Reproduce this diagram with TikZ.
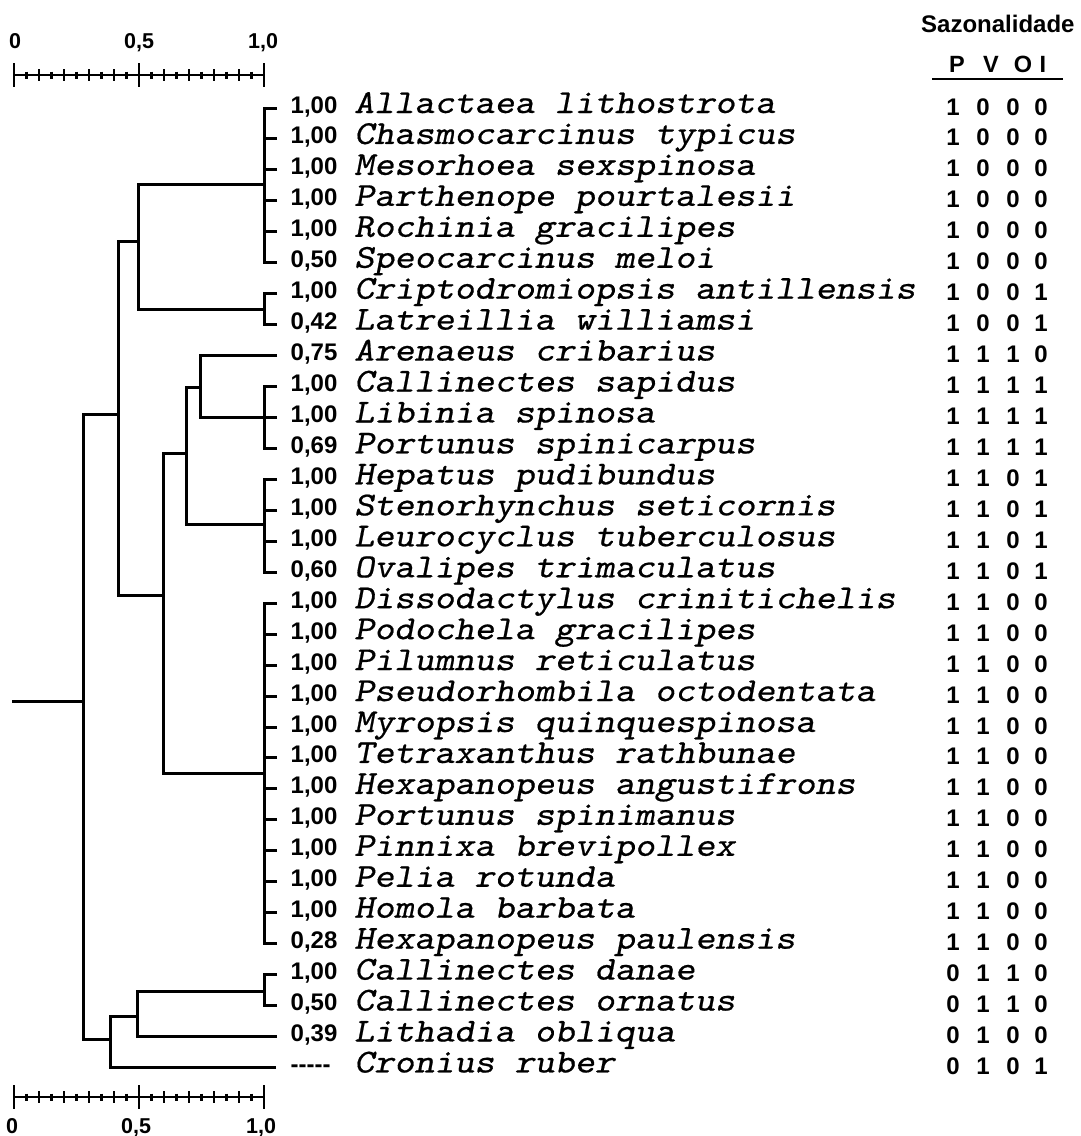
\documentclass[tikz,border=0pt]{standalone}
\usepackage{fontspec}
\setmainfont{Liberation Sans}
\newfontfamily\monofam{lmmonoslant10-regular.otf}[FakeStretch=1.14,FakeBold=0.6]
\begin{document}
\begin{tikzpicture}[x=1pt,y=-1pt,line join=miter,
  link/.style={line width=3pt},
  val/.style={anchor=base west,inner sep=0pt,font=\fontsize{24}{24}\selectfont\bfseries},
  spc/.style={anchor=base west,inner sep=0pt,font=\monofam\fontsize{33.5}{33.5}\selectfont},
  sea/.style={anchor=base,inner sep=0pt,font=\fontsize{24}{24}\selectfont\bfseries},
  scl/.style={anchor=base west,inner sep=0pt,font=\fontsize{21.5}{21.5}\selectfont\bfseries},
  hdr/.style={anchor=base west,inner sep=0pt,font=\fontsize{24}{24}\selectfont\bfseries}]
\useasboundingbox (0,0) rectangle (1081,1136);
\fill[white] (0,0) rectangle (1081,1136);

% header
\node[hdr] (title) at (921,32) {Sazonalidade};
\node[sea,font=\fontsize{23.5}{23.5}\selectfont\bfseries] (hP) at (957,72) {P};
\node[sea,font=\fontsize{23.5}{23.5}\selectfont\bfseries] (hV) at (991,72) {V};
\node[sea,font=\fontsize{23.5}{23.5}\selectfont\bfseries] (hO) at (1023,72) {O};
\node[sea,font=\fontsize{23.5}{23.5}\selectfont\bfseries] (hI) at (1043,72) {I};
\draw[line width=2.5pt] (932,79) -- (1063,79);

% rows
\foreach \i/\v/\s/\a/\b/\c/\d in {
 1/{1,00}/{Allactaea lithostrota}/1/0/0/0,
 2/{1,00}/{Chasmocarcinus typicus}/1/0/0/0,
 3/{1,00}/{Mesorhoea sexspinosa}/1/0/0/0,
 4/{1,00}/{Parthenope pourtalesii}/1/0/0/0,
 5/{1,00}/{Rochinia gracilipes}/1/0/0/0,
 6/{0,50}/{Speocarcinus meloi}/1/0/0/0,
 7/{1,00}/{Criptodromiopsis antillensis}/1/0/0/1,
 8/{0,42}/{Latreillia williamsi}/1/0/0/1,
 9/{0,75}/{Arenaeus cribarius}/1/1/1/0,
 10/{1,00}/{Callinectes sapidus}/1/1/1/1,
 11/{1,00}/{Libinia spinosa}/1/1/1/1,
 12/{0,69}/{Portunus spinicarpus}/1/1/1/1,
 13/{1,00}/{Hepatus pudibundus}/1/1/0/1,
 14/{1,00}/{Stenorhynchus seticornis}/1/1/0/1,
 15/{1,00}/{Leurocyclus tuberculosus}/1/1/0/1,
 16/{0,60}/{Ovalipes trimaculatus}/1/1/0/1,
 17/{1,00}/{Dissodactylus crinitichelis}/1/1/0/0,
 18/{1,00}/{Podochela gracilipes}/1/1/0/0,
 19/{1,00}/{Pilumnus reticulatus}/1/1/0/0,
 20/{1,00}/{Pseudorhombila octodentata}/1/1/0/0,
 21/{1,00}/{Myropsis quinquespinosa}/1/1/0/0,
 22/{1,00}/{Tetraxanthus rathbunae}/1/1/0/0,
 23/{1,00}/{Hexapanopeus angustifrons}/1/1/0/0,
 24/{1,00}/{Portunus spinimanus}/1/1/0/0,
 25/{1,00}/{Pinnixa brevipollex}/1/1/0/0,
 26/{1,00}/{Pelia rotunda}/1/1/0/0,
 27/{1,00}/{Homola barbata}/1/1/0/0,
 28/{0,28}/{Hexapanopeus paulensis}/1/1/0/0,
 29/{1,00}/{Callinectes danae}/0/1/1/0,
 30/{0,50}/{Callinectes ornatus}/0/1/1/0,
 31/{0,39}/{Lithadia obliqua}/0/1/0/0,
 32/{-{}-{}-{}-{}-}/{Cronius ruber}/0/1/0/1}{
  \pgfmathsetmacro\yy{108+(\i-1)*30.95}
  \coordinate (L\i) at (277,\yy);
  \node[val] (v\i) at (290.5,\yy+5) {\v};
  \node[spc] (s\i) at (354,\yy+5) {\s};
  \node[sea] (pa\i) at (953,\yy+7) {\a};
  \node[sea] (pb\i) at (983,\yy+7) {\b};
  \node[sea] (pc\i) at (1013,\yy+7) {\c};
  \node[sea] (pd\i) at (1041,\yy+7) {\d};
}
\coordinate (L32) at (276,1067.45);

% dendrogram junctions
\coordinate (cA) at (264,184);
\coordinate (cB) at (264,309);
\coordinate (jAB) at (138,241);
\coordinate (j200) at (200,387);
\coordinate (cC) at (264,417.5);
\coordinate (j186) at (186,453);
\coordinate (cD) at (264,524);
\coordinate (j163) at (163,595);
\coordinate (cE) at (264,773);
\coordinate (j118) at (118,414);
\coordinate (j83) at (83,701);
\coordinate (root) at (12,701);
\coordinate (cF) at (264,991);
\coordinate (j137) at (137,1016);
\coordinate (j110) at (110,1039);

\begin{scope}[link]
\foreach \i in {1,...,6} \draw (L\i) -| (cA);
\foreach \i in {7,8} \draw (L\i) -| (cB);
\draw (cA) -| (jAB);
\draw (cB) -| (jAB);
\draw (L9) -| (j200);
\foreach \i in {10,11,12} \draw (L\i) -| (cC);
\draw (cC) -| (j200);
\draw (j200) -| (j186);
\foreach \i in {13,...,16} \draw (L\i) -| (cD);
\draw (cD) -| (j186);
\draw (j186) -| (j163);
\foreach \i in {17,...,28} \draw (L\i) -| (cE);
\draw (cE) -| (j163);
\draw (j163) -| (j118);
\draw (jAB) -| (j118);
\draw (j118) -| (j83);
\foreach \i in {29,30} \draw (L\i) -| (cF);
\draw (cF) -| (j137);
\draw (L31) -| (j137);
\draw (j137) -| (j110);
\draw (L32) -| (j110);
\draw (j110) -| (j83);
\draw (root) -- (j83);
\end{scope}

% scale bars
\foreach \yb in {75,1097}{
  \draw[line width=2.8pt] (14,\yb) -- (264,\yb);
  \foreach \xx in {14,139,264} \draw[line width=2.6pt] (\xx,\yb-12) -- (\xx,\yb+12);
  \foreach \k in {1,...,19}{
    \pgfmathsetmacro\xx{14+12.5*\k}
    \pgfmathparse{int(mod(\k,2))}
    \ifnum\pgfmathresult=0
      \ifnum\k=10\else\draw[line width=2.4pt] (\xx,\yb-6) -- (\xx,\yb+6);\fi
    \else
      \draw[line width=2.4pt] (\xx,\yb-3.5) -- (\xx,\yb+3.5);
    \fi
  }
}
\node[scl,anchor=base] (t0) at (15,48) {0};
\node[scl] (t5) at (124,48) {0,5};
\node[scl] (t10) at (248,48) {1,0};
\node[scl,anchor=base] (b0) at (12,1133) {0};
\node[scl] (b5) at (121,1133) {0,5};
\node[scl] (b10) at (246,1133) {1,0};
\end{tikzpicture}
\end{document}
